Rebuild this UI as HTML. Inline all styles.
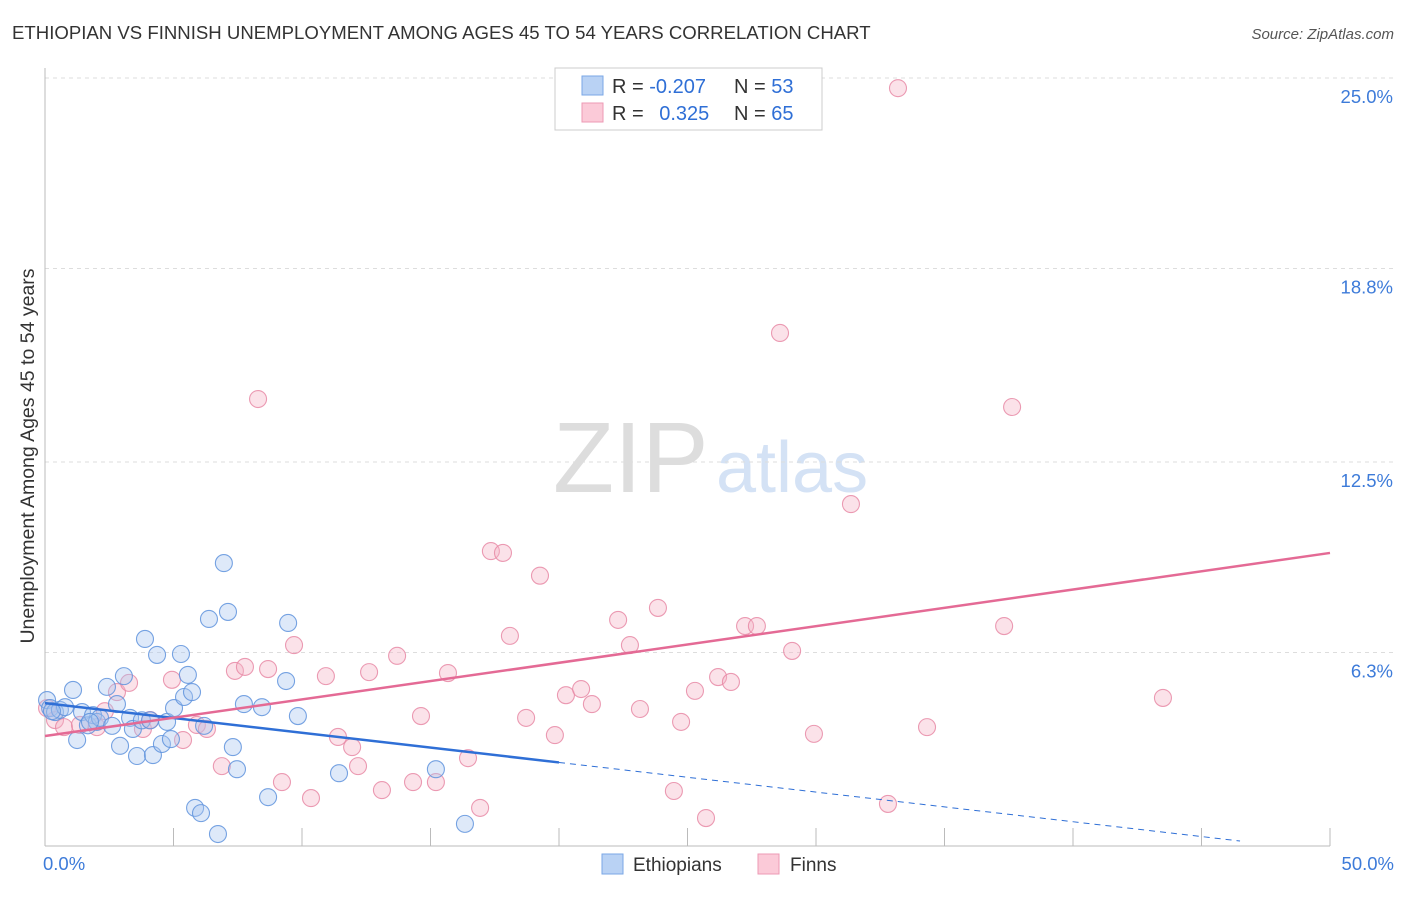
<!DOCTYPE html>
<html><head><meta charset="utf-8"><style>
body{margin:0;background:#fff;font-family:"Liberation Sans",sans-serif}
svg text{font-family:"Liberation Sans",sans-serif}
</style></head><body>
<svg width="1406" height="892" viewBox="0 0 1406 892" id="chart">
<text x="12" y="39" font-size="18.6" fill="#333">ETHIOPIAN VS FINNISH UNEMPLOYMENT AMONG AGES 45 TO 54 YEARS CORRELATION CHART</text>
<text x="1394" y="39" font-size="15" fill="#555" text-anchor="end" font-style="italic">Source: ZipAtlas.com</text>
<g>
<text x="553" y="492" font-size="100" fill="#ddd" font-family="Liberation Serif">ZIP</text>
<text x="716" y="492" font-size="72" fill="#d4e2f5">atlas</text>
</g>
<g id="grid"></g>
<g id="axes"></g>
<text transform="translate(34,456) rotate(-90)" font-size="19.5" fill="#333" text-anchor="middle">Unemployment Among Ages 45 to 54 years</text>
<g id="pts"></g>
<g id="lines"></g>
<g>
<rect x="555" y="68" width="267" height="62" fill="#fff" stroke="#ccc"/>
<rect x="582" y="76" width="21" height="19" fill="#b9d2f4" stroke="#7aa7e6"/>
<rect x="582" y="103" width="21" height="19" fill="#fbcad8" stroke="#ec9ab4"/>
<text x="612" y="93" font-size="20" fill="#333">R = <tspan fill="#2f6fd6">-0.207</tspan></text>
<text x="734" y="93" font-size="20" fill="#333">N = <tspan fill="#2f6fd6">53</tspan></text>
<text x="612" y="120" font-size="20" fill="#333">R = <tspan fill="#2f6fd6" dx="10">0.325</tspan></text>
<text x="734" y="120" font-size="20" fill="#333">N = <tspan fill="#2f6fd6">65</tspan></text>
</g>
<g>
<rect x="602" y="854" width="21" height="20" fill="#b9d2f4" stroke="#7aa7e6"/>
<text x="633" y="871" font-size="19" fill="#333">Ethiopians</text>
<rect x="758" y="854" width="21" height="20" fill="#fbcad8" stroke="#ec9ab4"/>
<text x="790" y="871" font-size="19" fill="#333">Finns</text>
</g>
</svg>
<script>
const yTicks=[25.0,18.8,12.5,6.3];
const yTickLabels=["25.0%","18.8%","12.5%","6.3%"];
const xTickLabels=["0.0%","50.0%"];
const ethX=[0.08,0.2,0.39,0.58,0.78,1.09,1.25,1.44,1.67,1.87,2.02,2.14,2.41,2.61,2.80,2.92,3.07,3.31,3.42,3.58,3.77,3.89,4.09,4.20,4.36,4.55,4.75,4.90,5.02,5.29,5.41,5.56,5.72,6.19,6.38,6.96,7.12,7.31,7.47,7.74,8.44,8.68,9.38,9.46,9.84,11.44,15.21,16.34,5.84,6.07,6.73,0.27,1.75];
const ethY=[4.75,4.49,4.36,4.43,4.52,5.08,3.45,4.36,3.93,4.26,4.04,4.17,5.18,3.91,4.62,3.26,5.53,4.17,3.81,2.93,4.09,6.74,4.09,2.96,6.22,3.32,4.04,3.48,4.49,6.25,4.85,5.57,5.01,3.91,7.39,9.21,7.62,3.22,2.50,4.62,4.52,1.59,5.37,7.26,4.23,2.37,2.50,0.72,1.24,1.07,0.39,4.39,4.04];
const finX=[0.08,0.39,0.74,1.36,2.02,2.33,2.80,3.27,3.81,4.09,4.94,5.37,5.91,6.30,6.88,7.39,7.78,8.29,8.68,9.22,9.69,10.35,10.93,11.40,11.95,12.18,12.61,13.11,13.70,14.32,14.63,15.21,15.68,16.46,16.93,17.35,17.82,18.09,18.72,19.26,19.84,20.27,20.86,21.28,22.30,22.76,23.15,23.85,24.47,24.75,25.29,25.72,26.19,26.69,27.24,27.70,28.60,29.07,29.92,31.36,32.80,33.19,34.32,37.32,37.63,43.50];
const finY=[4.49,4.10,3.87,3.94,3.87,4.39,5.01,5.31,3.81,4.10,5.41,3.45,3.94,3.81,2.60,5.70,5.83,14.55,5.76,2.08,6.54,1.56,5.53,3.55,3.22,2.60,5.66,1.82,6.19,2.08,4.23,2.08,5.63,2.86,1.24,9.60,9.54,6.84,4.17,8.80,3.61,4.91,5.11,4.62,7.36,6.54,4.46,7.75,1.79,4.04,5.05,0.91,5.50,5.34,7.16,7.16,16.70,6.35,3.65,11.13,1.37,24.67,3.87,7.16,14.29,4.82];
const ethTrend=[4.65,-0.0965];
const finTrend=[3.58,0.1192];
const NS="http://www.w3.org/2000/svg";
const X=v=>45+v*25.7, Y=v=>846-v*30.72;
function mk(t,a,p){const e=document.createElementNS(NS,t);for(const k in a)e.setAttribute(k,a[k]);p.appendChild(e);return e;}
const grid=document.getElementById('grid'),axes=document.getElementById('axes'),svg=document.getElementById('chart');
yTicks.forEach((t,i)=>{
 const g=mk('line',{x1:45,x2:1394,y1:Y(t),y2:Y(t),stroke:'#ddd','stroke-dasharray':'4,4'},grid);
 
 
 const l=mk('text',{x:1393,y:Y(t)+25,'font-size':18.5,fill:'#3d7bd9','text-anchor':'end'},svg);l.textContent=yTickLabels[i];
 
 
});
mk('line',{x1:45,x2:45,y1:68,y2:846,stroke:'#bbb'},axes);
mk('line',{x1:45,x2:1330,y1:846,y2:846,stroke:'#bbb'},axes);
for(let i=1;i<=10;i++){const t=mk('line',{x1:X(i*5),x2:X(i*5),y1:828,y2:846,stroke:'#bbb'},axes);
 
 }
[[0,'start',43],[50,'end',1394]].forEach((d,i)=>{const l=mk('text',{x:d[2],y:870,'font-size':18.5,fill:'#3d7bd9','text-anchor':d[1]},svg);l.textContent=xTickLabels[i];
 
 });
const pts=document.getElementById('pts');


function dots(xs,ys,fill,stroke,name){xs.forEach((x,i)=>{const c=mk('circle',{cx:X(x),cy:Y(ys[i]),r:8.5,fill:fill,'fill-opacity':0.38,stroke:stroke,'stroke-width':1.1,'stroke-opacity':0.85},pts);
 
 });}
dots(finX,finY,'#f5b3c6','#e88aa6','finns-point');
dots(ethX,ethY,'#a8c6f0','#5f93dd','ethiopians-point');
const ln=document.getElementById('lines');
const a=mk('line',{x1:X(0),y1:Y(ethTrend[0]),x2:X(20),y2:Y(ethTrend[0]+ethTrend[1]*20),stroke:'#2f6fd6','stroke-width':2.5},ln);


const b=mk('line',{x1:X(20),y1:Y(ethTrend[0]+ethTrend[1]*20),x2:X(46.5),y2:Y(ethTrend[0]+ethTrend[1]*46.5),stroke:'#2f6fd6','stroke-width':1,'stroke-dasharray':'6,5'},ln);


const c=mk('line',{x1:X(0),y1:Y(finTrend[0]),x2:X(50),y2:Y(finTrend[0]+finTrend[1]*50),stroke:'#e46a95','stroke-width':2.5},ln);


</script>
</body></html>
